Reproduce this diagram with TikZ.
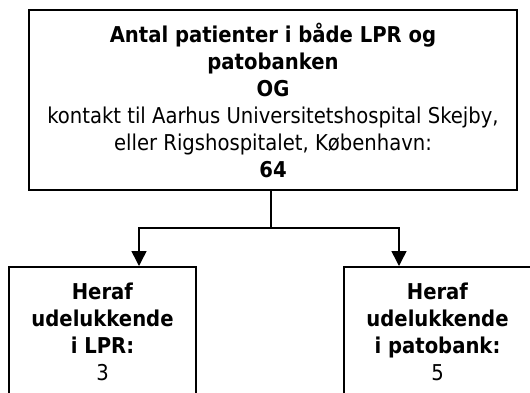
\documentclass[tikz,border=0pt]{standalone}
\usepackage{fontspec}
\setmainfont{DejaVu Sans Condensed}
\usetikzlibrary{arrows.meta}
\begin{document}
\begin{tikzpicture}[x=1pt,y=-1pt,
	boks/.style={draw,line width=1.6pt,align=center,inner sep=0pt,font=\fontsize{21.8}{27}\selectfont},
	linje/.style={line width=1.5pt},
	pil/.style={line width=1.5pt,-{Triangle[width=15pt,length=15pt]}}]
%					Ramme :
					\useasboundingbox (0,0) rectangle (530,392);
					\clip (0,0) rectangle (530,392);
%					Kasser :
					\node[boks,minimum width=488pt,minimum height=180pt] (alle) at (273,100) {\textbf{Antal patienter i både LPR og}\\ \textbf{patobanken}\\ \textbf{OG}\\ kontakt til Aarhus Universitetshospital Skejby,\\ eller Rigshospitalet, København:\\ \textbf{64}};
					\node[boks,anchor=north,minimum width=187pt,minimum height=130pt] (lpr) at (102.5,266) {\textbf{Heraf}\\ \textbf{udelukkende}\\ \textbf{i LPR:}\\ 3};
					\node[boks,anchor=north,minimum width=187pt,minimum height=130pt] (patobank) at (437.5,266) {\textbf{Heraf}\\ \textbf{udelukkende}\\ \textbf{i patobank:}\\ 5};
%					Forgrening :
					\coordinate (gren) at (271,228);
					\coordinate (venstre) at (139,0);
					\coordinate (hoejre) at (399,0);
					\draw[linje] (alle.south -| gren) -- (gren);
					\draw[pil] (gren) -| (venstre |- lpr.north);
					\draw[pil] (gren) -| (hoejre |- patobank.north);
				\end{tikzpicture}
\end{document}
